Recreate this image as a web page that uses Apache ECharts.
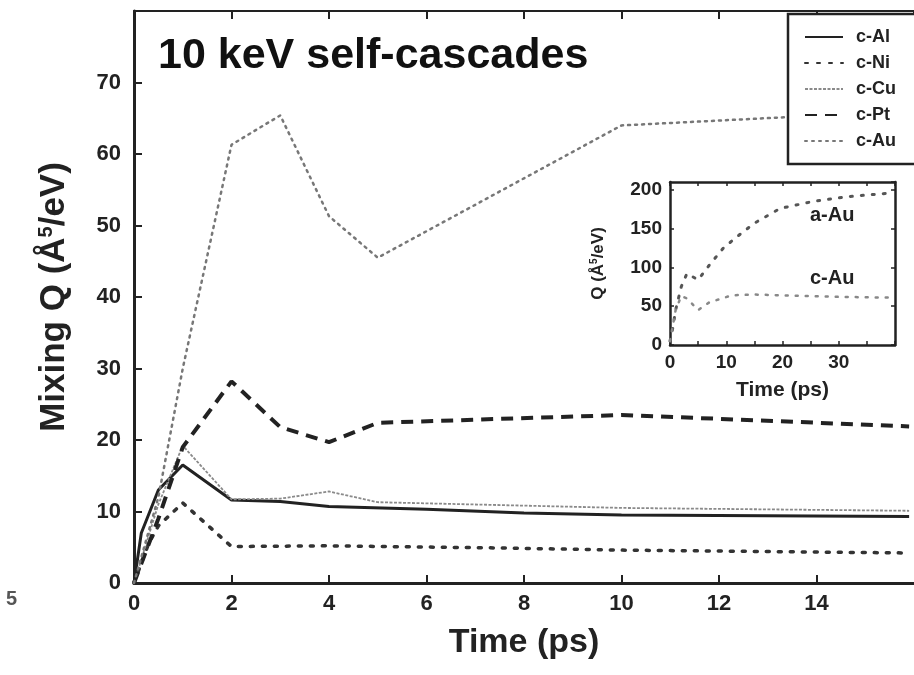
<!DOCTYPE html>
<html>
<head>
<meta charset="utf-8">
<script src="https://cdn.jsdelivr.net/npm/echarts@6/dist/echarts.min.js"></script>
<style>
  html, body { margin: 0; padding: 0; background: #fff; }
  #chart { width: 914px; height: 675px; }
</style>
</head>
<body>
<div id="chart"></div>
<script>
var chart = echarts.init(document.getElementById('chart'));
var option;

// main panel: [time (ps), Q]
const cAl = [[0, 0], [0.15, 7], [0.5, 13], [1, 16.5], [2, 11.6], [3, 11.4], [4, 10.7], [6, 10.3], [8, 9.8], [10, 9.5], [15.9, 9.3]];
const cNi = [[0, 0], [0.3, 5.5], [0.5, 8], [1, 11.2], [2, 5.1], [4, 5.2], [7.5, 4.9], [10, 4.6], [15.9, 4.2]];
const cCu = [[0, 0], [0.5, 11], [1, 19.2], [2, 11.7], [3, 11.8], [4, 12.8], [5, 11.3], [10, 10.5], [15.9, 10.1]];
const cPt = [[0, 0], [0.5, 9], [1, 19], [2, 28.2], [3, 21.8], [4, 19.7], [5, 22.4], [10, 23.5], [15.9, 21.9]];
const cAu = [[0, 0], [0.5, 12], [1, 30], [2, 61.3], [3, 65.4], [4, 51.3], [5, 45.5], [10, 64], [15.9, 66]];

// inset panel
const insetA = [[0, 5], [0.5, 22], [1, 45], [2, 75], [3, 92], [5, 84], [7, 103], [9.5, 125], [12, 140], [15, 157], [19.6, 176], [25.5, 185], [31.4, 191], [39.5, 196]];
const insetC = [[0, 5], [1, 45], [2, 63], [3, 60], [5, 45], [7, 55], [11, 64], [15, 65], [20, 64], [30, 62], [39.5, 61]];

const seriesNames = ['c-Al', 'c-Ni', 'c-Cu', 'c-Pt', 'c-Au'];
const mainXTicks = { min: 0, max: 16, step: 2 };
const mainYTicks = { min: 0, max: 80, step: 10 };

const FONT = '"Liberation Sans", Arial, sans-serif';
const INK = '#222';

function lineSeries(name, data, style, xi, yi) {
  return {
    name: name,
    type: 'line',
    xAxisIndex: xi || 0,
    yAxisIndex: yi || 0,
    data: data,
    symbol: 'none',
    showSymbol: false,
    itemStyle: { color: style.color },
    lineStyle: style,
    silent: true,
    z: 3
  };
}

var boldLabel = function (size, color) {
  return { fontFamily: FONT, fontWeight: 'bold', fontSize: size, color: color || INK };
};

option = {
  animation: false,
  backgroundColor: '#fff',
  grid: [
    { left: 134, top: 11, right: -7, bottom: 92 },
    { left: 670, top: 182, width: 225, height: 163, show: true, backgroundColor: '#fff', borderWidth: 0 }
  ],
  legend: {
    data: seriesNames,
    orient: 'vertical',
    left: 788,
    top: 14,
    padding: [14, 22, 14, 16],
    itemWidth: 38,
    itemHeight: 14,
    itemGap: 8,
    itemStyle: { opacity: 0 },
    backgroundColor: '#fff',
    borderColor: INK,
    borderWidth: 2.5,
    textStyle: Object.assign(boldLabel(18), { padding: [0, 0, 0, 8], lineHeight: 17 }),
    z: 10
  },
  xAxis: [
    {
      type: 'value', gridIndex: 0, position: 'bottom',
      min: mainXTicks.min, max: mainXTicks.max, interval: mainXTicks.step,
      name: 'Time (ps)', nameLocation: 'middle', nameGap: 43,
      nameTextStyle: boldLabel(34),
      axisLine: { show: true, onZero: false, lineStyle: { color: INK, width: 3 } },
      axisTick: { show: true, inside: true, length: 8, lineStyle: { color: INK, width: 2 } },
      axisLabel: Object.assign(boldLabel(22), { margin: 10, showMaxLabel: false }),
      splitLine: { show: false }
    },
    {
      type: 'value', gridIndex: 0, position: 'top',
      min: mainXTicks.min, max: mainXTicks.max, interval: mainXTicks.step,
      axisLine: { show: true, onZero: false, lineStyle: { color: INK, width: 2 } },
      axisTick: { show: true, inside: true, length: 8, lineStyle: { color: INK, width: 2 } },
      axisLabel: { show: false },
      splitLine: { show: false }
    },
    {
      type: 'value', gridIndex: 1, position: 'bottom',
      min: 0, max: 40, interval: 10,
      name: 'Time (ps)', nameLocation: 'middle', nameGap: 35,
      nameTextStyle: boldLabel(21),
      axisLine: { show: true, onZero: false, lineStyle: { color: INK, width: 2.5 } },
      axisTick: { show: true, inside: true, length: 4, lineStyle: { color: INK, width: 1.5 } },
      minorTick: { show: true, splitNumber: 2, length: 4, lineStyle: { color: INK, width: 1.5 } },
      axisLabel: Object.assign(boldLabel(19), { margin: 8, showMaxLabel: false }),
      splitLine: { show: false }
    },
    {
      type: 'value', gridIndex: 1, position: 'top',
      min: 0, max: 40, interval: 10,
      axisLine: { show: true, onZero: false, lineStyle: { color: INK, width: 2.5 } },
      axisTick: { show: true, inside: true, length: 4, lineStyle: { color: INK, width: 1.5 } },
      minorTick: { show: true, splitNumber: 2, length: 4, lineStyle: { color: INK, width: 1.5 } },
      axisLabel: { show: false },
      splitLine: { show: false }
    }
  ],
  yAxis: [
    {
      type: 'value', gridIndex: 0, position: 'left',
      min: mainYTicks.min, max: mainYTicks.max, interval: mainYTicks.step,
      name: 'Mixing Q (Å{sup|5}/eV)', nameLocation: 'middle', nameGap: 62, nameRotate: 90,
      nameTextStyle: Object.assign(boldLabel(35), {
        rich: { sup: { fontFamily: FONT, fontWeight: 'bold', fontSize: 20, color: INK, verticalAlign: 'top', padding: [0, 0, 16, 0] } }
      }),
      axisLine: { show: true, onZero: false, lineStyle: { color: INK, width: 3 } },
      axisTick: { show: true, inside: true, length: 8, lineStyle: { color: INK, width: 2 } },
      axisLabel: Object.assign(boldLabel(22), { margin: 13, showMaxLabel: false }),
      splitLine: { show: false }
    },
    {
      type: 'value', gridIndex: 1, position: 'left',
      min: 0, max: 210, interval: 50,
      name: 'Q (Å{sup|5}/eV)', nameLocation: 'middle', nameGap: 63, nameRotate: 90,
      nameTextStyle: Object.assign(boldLabel(17), {
        rich: { sup: { fontFamily: FONT, fontWeight: 'bold', fontSize: 10, color: INK, verticalAlign: 'top', padding: [0, 0, 8, 0] } }
      }),
      axisLine: { show: true, onZero: false, lineStyle: { color: INK, width: 2.5 } },
      axisTick: { show: true, inside: true, length: 4, lineStyle: { color: INK, width: 1.5 } },
      axisLabel: Object.assign(boldLabel(19), { margin: 8, showMaxLabel: false }),
      splitLine: { show: false }
    },
    {
      type: 'value', gridIndex: 1, position: 'right',
      min: 0, max: 210, interval: 50,
      axisLine: { show: true, onZero: false, lineStyle: { color: INK, width: 2.5 } },
      axisTick: { show: true, inside: true, length: 4, lineStyle: { color: INK, width: 1.5 } },
      axisLabel: { show: false },
      splitLine: { show: false }
    }
  ],
  series: [
    lineSeries('c-Al', cAl, { color: INK, width: 3, type: 'solid' }),
    lineSeries('c-Ni', cNi, { color: '#333', width: 3.5, type: [3, 9], cap: 'round' }),
    lineSeries('c-Cu', cCu, { color: '#8a8a8a', width: 1.8, type: [3, 1.5] }),
    lineSeries('c-Pt', cPt, { color: INK, width: 4, type: [12, 8] }),
    lineSeries('c-Au', cAu, { color: '#777', width: 2.5, type: [2, 5], cap: 'round' }),
    lineSeries('a-Au', insetA, { color: '#555', width: 3, type: [2, 9], cap: 'round' }, 2, 1),
    lineSeries('c-Au inset', insetC, { color: '#888', width: 2.5, type: [2, 8], cap: 'round' }, 2, 1)
  ],
  graphic: [
    {
      type: 'text', left: 158, top: 35, z: 20,
      style: { text: '10 keV self-cascades', font: 'bold 43px ' + FONT, fill: '#111' }
    },
    {
      type: 'text', left: 810, top: 205, z: 20,
      style: { text: 'a-Au', font: 'bold 20px ' + FONT, fill: INK }
    },
    {
      type: 'text', left: 810, top: 268, z: 20,
      style: { text: 'c-Au', font: 'bold 20px ' + FONT, fill: INK }
    },
    {
      type: 'text', left: 6, top: 589, z: 20,
      style: { text: '5', font: 'bold 20px ' + FONT, fill: '#555' }
    }
  ]
};

option && chart.setOption(option);
</script>
</body>
</html>
